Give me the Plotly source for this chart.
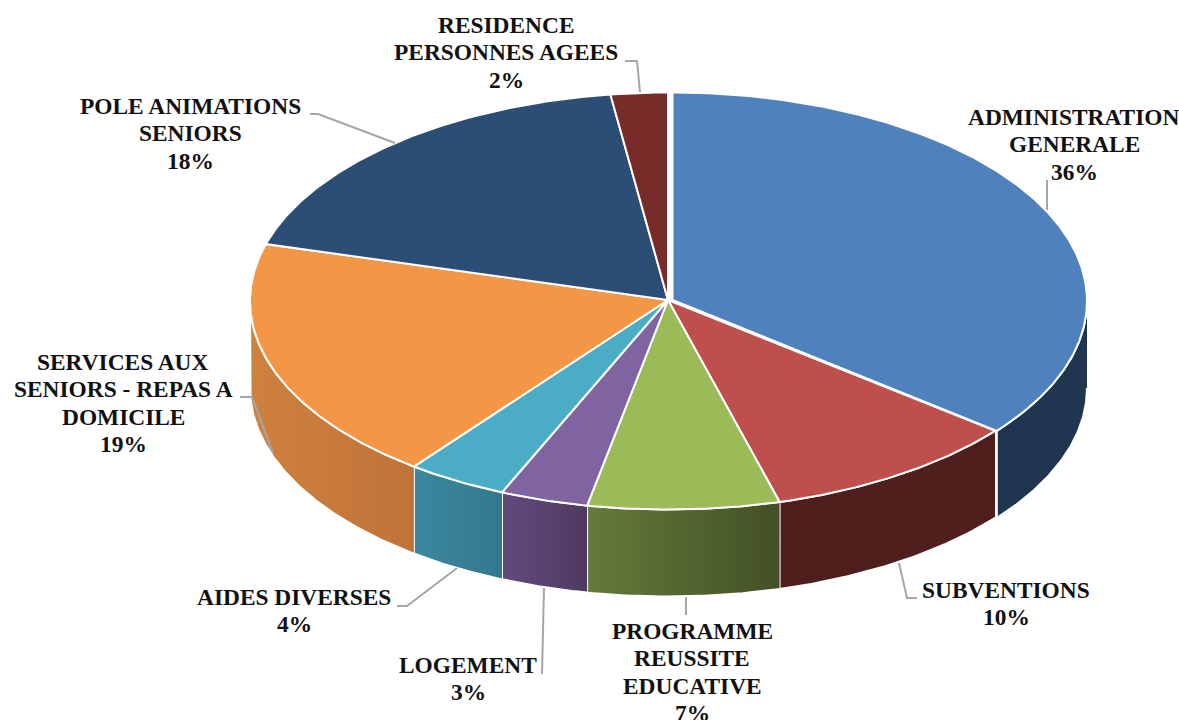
"""3D-look pie chart of budget shares, drawn as projected wedges."""

from __future__ import annotations

import numpy as np
import plotly.graph_objects as go

# shares in percent, clockwise from the top
labels = [
    ["ADMINISTRATION", "GENERALE"],
    ["SUBVENTIONS"],
    ["PROGRAMME", "REUSSITE", "EDUCATIVE"],
    ["LOGEMENT"],
    ["AIDES DIVERSES"],
    ["SERVICES AUX", "SENIORS - REPAS A", "DOMICILE"],
    ["POLE ANIMATIONS", "SENIORS"],
    ["RESIDENCE", "PERSONNES AGEES"],
]
shares = [35.7, 10.0, 7.4, 3.4, 3.9, 19.0, 18.4, 2.2]

top_colors = ["#4F81BD", "#BE4F4C", "#9BBB59", "#8064A2", "#4BACC6", "#F39646", "#2C4D75", "#772C2A"]
wall_left = ["#1F3550", "#4F1F1E", "#647B39", "#624A7E", "#3B88A0", "#CF813F", "#1F3550", "#4F1F1E"]
wall_right = ["#1F3550", "#4F1F1E", "#435026", "#4E3A60", "#33788D", "#BF7338", "#1F3550", "#4F1F1E"]

# label block: centre x, y of the first line
label_x = [1074, 1006, 692, 468, 294, 123, 190, 506]
label_y = [117, 590, 631, 665, 597, 362, 106, 25]

leaders = [
    ([1047, 1047], [180, 210]),
    ([917, 907, 899], [598, 598, 563]),
    ([686, 686], [615, 597]),
    ([542, 544], [674, 588]),
    ([397, 407, 457], [606, 606, 568]),
    ([240, 252, 273], [397, 397, 453]),
    ([310, 318, 395], [114, 114, 143]),
    ([625, 637, 640], [61, 61, 92]),
]

CX, CY = 668, 301
RX, RY = 418, 208.5
TIP_Y = 300
DEPTH = 87
LINE_GAP = 27.4
# the first slice sits a few pixels out from the others
PULLED_CX, PULLED_RX = 672.5, 414.5


def arc(i, a, b, dy=0.0):
    cx, rx = (PULLED_CX, PULLED_RX) if i == 0 else (CX, RX)
    t = np.radians(np.linspace(a, b, max(int(abs(b - a)) * 2, 2)))
    return cx + rx * np.sin(t), CY - RY * np.cos(t) + dy


fig = go.Figure()
edges = np.concatenate([[0], np.cumsum(shares)]) * 3.6

# side walls, only the front half of the disc shows
for i in range(len(shares)):
    a, b = max(edges[i], 90), min(edges[i + 1], 270)
    if a >= b:
        continue
    x1, y1 = arc(i, a, b)
    x2, y2 = arc(i, b, a, DEPTH)
    fig.add_trace(go.Scatter(
        x=np.concatenate([x1, x2]), y=np.concatenate([y1, y2]),
        mode="lines", fill="toself",
        fillgradient={"type": "horizontal", "colorscale": [[0, wall_left[i]], [1, wall_right[i]]]},
        line={"color": "white", "width": 2},
        hoverinfo="skip", showlegend=False,
    ))

for i in range(len(shares)):
    x, y = arc(i, edges[i], edges[i + 1])
    cx = PULLED_CX if i == 0 else CX
    fig.add_trace(go.Scatter(
        x=np.concatenate([[cx], x, [cx]]), y=np.concatenate([[TIP_Y], y, [TIP_Y]]),
        mode="lines", fill="toself", fillcolor=top_colors[i],
        line={"color": "white", "width": 2},
        name=" ".join(labels[i]), hoverinfo="name", showlegend=False,
    ))

for lx, ly in leaders:
    fig.add_trace(go.Scatter(
        x=lx, y=ly, mode="lines", line={"color": "#A6A6A6", "width": 2},
        hoverinfo="skip", showlegend=False,
    ))

for i, lines in enumerate(labels):
    for j, text in enumerate(lines + [f"{round(shares[i])}%"]):
        fig.add_annotation(
            x=label_x[i], y=label_y[i] + j * LINE_GAP, text=f"<b>{text}</b>",
            showarrow=False, xanchor="center", yanchor="middle",
            font={"family": "Liberation Serif", "size": 23.4, "color": "#111111"},
        )

fig.update_layout(
    width=1179, height=720,
    margin={"l": 0, "r": 0, "t": 0, "b": 0},
    paper_bgcolor="white", plot_bgcolor="white",
)
fig.update_xaxes(range=[0, 1179], visible=False)
fig.update_yaxes(range=[720, 0], visible=False)

fig.write_html(
    "out.html",
    config={"displayModeBar": False},
    post_script="document.body.style.margin = '0';",
)
